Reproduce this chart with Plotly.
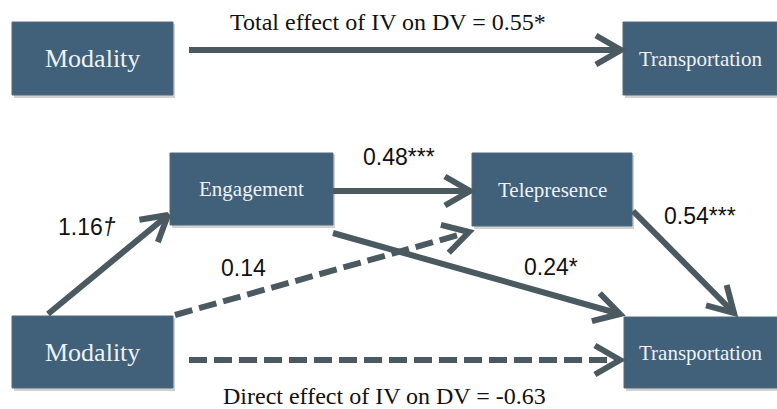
import math
import plotly.graph_objects as go

# ---- data ----
node_names = ["Modality", "Transportation", "Engagement", "Telepresence", "Modality", "Transportation"]
path_labels = ["1.16<i>†</i>", "0.48***", "0.14", "0.24*", "0.54***"]
total_effect_label = "Total effect of IV on DV = 0.55*"
direct_effect_label = "Direct effect of IV on DV = -0.63"

# ---- layout (pixel coordinates of the diagram) ----
node_boxes = [(12, 22, 173, 95), (623, 22, 777, 95), (170, 153, 333, 225),
              (472, 153, 632, 226), (12, 316, 173, 388), (624, 317, 777, 388)]
node_font_sizes = [26, 21, 21, 21, 26, 21]
# arrows: (x0, y0, x1, y1, dashed)
arrows = [(189, 50, 621, 50, False),
          (48, 314, 168, 215, False),
          (333, 191, 470, 191, False),
          (175, 315, 469, 232, True),
          (333, 233, 620, 314, False),
          (633, 211, 734, 313, False),
          (189, 360, 620, 360, True)]
path_label_pos = [(87, 227), (399, 157), (243, 268), (551, 267), (700, 216)]

BOX = "#41607a"
ARROW = "#4b5a61"
W, H = 777, 409

fig = go.Figure()
shapes = []
annotations = []

for (x0, y0, x1, y1), name, fs in zip(node_boxes, node_names, node_font_sizes):
    shapes.append(dict(type="rect", x0=x0 + 2, y0=y0 + 2, x1=x1 + 2, y1=y1 + 3,
                       fillcolor="rgba(0,0,0,0.18)", line=dict(width=0), layer="below"))
    shapes.append(dict(type="rect", x0=x0, y0=y0, x1=x1, y1=y1,
                       fillcolor=BOX, line=dict(color="#55697a", width=1), layer="below"))
    annotations.append(dict(x=(x0 + x1) / 2, y=(y0 + y1) / 2, text=name, showarrow=False,
                            font=dict(family="Liberation Serif", size=fs, color="#eef2f3"),
                            xanchor="center", yanchor="middle"))

for x0, y0, x1, y1, dashed in arrows:
    fig.add_trace(go.Scatter(x=[x0, x1], y=[y0, y1], mode="lines",
                             line=dict(color=ARROW, width=6, dash="18px,7px" if dashed else "solid"),
                             hoverinfo="skip", showlegend=False))
    ang = math.atan2(y1 - y0, x1 - x0)
    L, a = 29, math.radians(30)
    p1 = (x1 - L * math.cos(ang - a), y1 - L * math.sin(ang - a))
    p2 = (x1 - L * math.cos(ang + a), y1 - L * math.sin(ang + a))
    fig.add_trace(go.Scatter(x=[p1[0], x1, p2[0]], y=[p1[1], y1, p2[1]], mode="lines",
                             line=dict(color=ARROW, width=6),
                             hoverinfo="skip", showlegend=False))

for (x, y), t in zip(path_label_pos, path_labels):
    annotations.append(dict(x=x, y=y, text=t, showarrow=False,
                            font=dict(family="Liberation Sans", size=23, color="#111111"),
                            xanchor="center", yanchor="middle"))

annotations.append(dict(x=388, y=22, text=total_effect_label, showarrow=False,
                        font=dict(family="Liberation Serif", size=24, color="#111111"),
                        xanchor="center", yanchor="middle"))
annotations.append(dict(x=384, y=396, text=direct_effect_label, showarrow=False,
                        font=dict(family="Liberation Serif", size=24, color="#111111"),
                        xanchor="center", yanchor="middle"))

fig.update_layout(
    width=W, height=H, margin=dict(l=0, r=0, t=0, b=0),
    paper_bgcolor="white", plot_bgcolor="white",
    xaxis=dict(range=[0, W], visible=False, fixedrange=True),
    yaxis=dict(range=[H, 0], visible=False, fixedrange=True),
    shapes=shapes, annotations=annotations, showlegend=False,
)
fig.write_html("out.html", config={"displayModeBar": False},
               post_script="document.body.style.margin='0';document.body.style.overflow='hidden';")
